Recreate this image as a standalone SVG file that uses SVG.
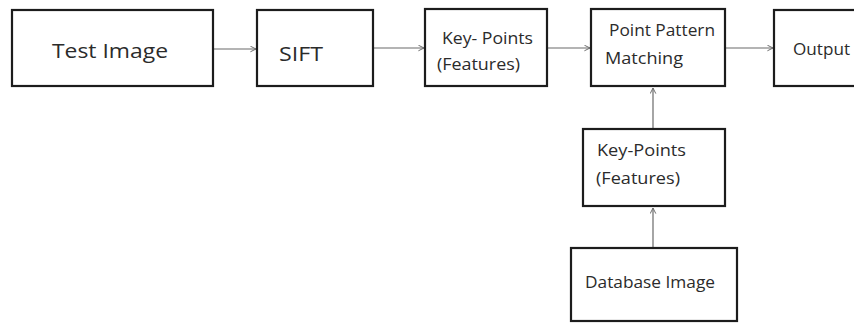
<svg xmlns="http://www.w3.org/2000/svg" width="854" height="325" viewBox="0 0 854 325">
  <style>
    .box { fill: #ffffff; stroke: #1c1c1c; stroke-width: 2.2; }
    .lbl { font-family: "Open Sans", "Liberation Sans", sans-serif; fill: #2b2b2b; }
    .big { font-size: 20px; }
    .sm { font-size: 16.5px; }
    .wire { stroke: #6a6a6a; stroke-width: 1.2; fill: none; marker-end: url(#chev); }
  </style>
  <defs>
    <marker id="chev" viewBox="0 0 10 10" refX="9" refY="5" markerWidth="7" markerHeight="7" markerUnits="userSpaceOnUse" orient="auto">
      <path d="M1,1 L9,5 L1,9" fill="none" stroke="#6a6a6a" stroke-width="1.4"/>
    </marker>
  </defs>
  <rect width="854" height="325" fill="#ffffff"/>

  <g id="connectors">
    <line class="wire" x1="213" y1="49" x2="256" y2="49"/>
    <line class="wire" x1="373" y1="48" x2="424" y2="48"/>
    <line class="wire" x1="547" y1="48" x2="590" y2="48"/>
    <line class="wire" x1="725" y1="48" x2="773" y2="48"/>
    <line class="wire" x1="653" y1="129" x2="653" y2="88"/>
    <line class="wire" x1="653" y1="248" x2="653" y2="208"/>
  </g>

  <g id="test-image">
    <rect class="box" x="12" y="10" width="201" height="76"/>
    <text class="lbl big" x="52" y="58" textLength="116" lengthAdjust="spacingAndGlyphs">Test Image</text>
  </g>
  <g id="sift">
    <rect class="box" x="257" y="10" width="116" height="76"/>
    <text class="lbl big" x="279" y="61" textLength="44" lengthAdjust="spacingAndGlyphs">SIFT</text>
  </g>
  <g id="key-points-test">
    <rect class="box" x="425" y="9" width="122" height="77"/>
    <text class="lbl sm" x="442" y="44" textLength="91" lengthAdjust="spacingAndGlyphs">Key- Points</text>
    <text class="lbl sm" x="437" y="70" textLength="83" lengthAdjust="spacingAndGlyphs">(Features)</text>
  </g>
  <g id="point-pattern-matching">
    <rect class="box" x="591" y="9" width="134" height="77"/>
    <text class="lbl sm" x="609" y="36" textLength="106" lengthAdjust="spacingAndGlyphs">Point Pattern</text>
    <text class="lbl sm" x="605" y="64" textLength="78" lengthAdjust="spacingAndGlyphs">Matching</text>
  </g>
  <g id="output">
    <rect class="box" x="774" y="10" width="90" height="76"/>
    <text class="lbl sm" x="793" y="55" textLength="57" lengthAdjust="spacingAndGlyphs">Output</text>
  </g>
  <g id="key-points-database">
    <rect class="box" x="583" y="129" width="142" height="77"/>
    <text class="lbl sm" x="597" y="156" textLength="89" lengthAdjust="spacingAndGlyphs">Key-Points</text>
    <text class="lbl sm" x="596" y="184" textLength="84" lengthAdjust="spacingAndGlyphs">(Features)</text>
  </g>
  <g id="database-image">
    <rect class="box" x="571" y="248" width="166" height="73"/>
    <text class="lbl sm" x="585" y="288" textLength="130" lengthAdjust="spacingAndGlyphs">Database Image</text>
  </g>
</svg>
